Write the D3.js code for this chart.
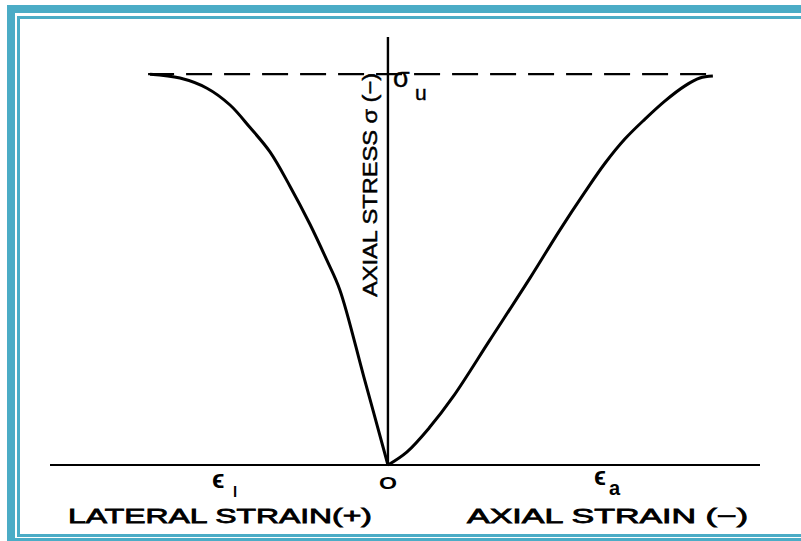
<!DOCTYPE html>
<html>
<head>
<meta charset="utf-8">
<script src="https://cdn.jsdelivr.net/npm/d3@7/dist/d3.min.js"></script>
<style>
  html, body { margin: 0; padding: 0; background: #fff; }
  svg { display: block; }
  text { font-family: "Liberation Sans", Arial, sans-serif; fill: #000; }
</style>
</head>
<body>
<svg id="chart" width="801" height="541"></svg>
<script>
// Stress normalised by the peak (ultimate) stress σu; strains normalised by the axial strain at peak.
const lateralStrain = [0, 0.074, 0.148, 0.188, 0.240, 0.302, 0.363, 0.425, 0.486, 0.557, 0.640, 0.732];
const lateralStress = [0, 0.225, 0.448, 0.524, 0.616, 0.714, 0.801, 0.864, 0.921, 0.964, 0.990, 1.0];
const axialStrain   = [0, 0.058, 0.129, 0.200, 0.314, 0.437, 0.529, 0.606, 0.668, 0.729, 0.791, 0.852, 0.914, 0.960, 1.0];
const axialStress   = [0, 0.033, 0.097, 0.174, 0.320, 0.478, 0.601, 0.698, 0.772, 0.834, 0.885, 0.931, 0.970, 0.990, 0.995];
const peakStress = 1.0;

// Axis labels and annotations
const originLabel = "O";
const stressAxisLabel = "AXIAL STRESS σ (−)";
const lateralAxisLabel = "LATERAL STRAIN(+)";
const axialAxisLabel = "AXIAL STRAIN (−)";

const svg = d3.select("#chart");
const teal = "#4bacc6";

// Double frame around the figure
svg.append("rect").attr("x", 7).attr("y", 5).attr("width", 830).attr("height", 560).attr("fill", teal);
svg.append("rect").attr("x", 15).attr("y", 13).attr("width", 830).attr("height", 525).attr("fill", "#fff");
svg.append("rect").attr("x", 17).attr("y", 16).attr("width", 830).attr("height", 521).attr("fill", teal);
svg.append("rect").attr("x", 20).attr("y", 19).attr("width", 830).attr("height", 515).attr("fill", "#fff");

// Lateral strain is plotted to the left of the origin (negative side of the scale)
const x = d3.scaleLinear().domain([-1.04, 1.145]).range([50, 760]);
const y = d3.scaleLinear().domain([0, 1.095]).range([465, 37]);

const g = svg.append("g");

// Axes
g.append("line")
  .attr("x1", x(-1.04)).attr("x2", x(1.145))
  .attr("y1", y(0)).attr("y2", y(0))
  .attr("stroke", "#000").attr("stroke-width", 2.2);
g.append("line")
  .attr("x1", x(0)).attr("x2", x(0))
  .attr("y1", y(0)).attr("y2", y(1.095))
  .attr("stroke", "#000").attr("stroke-width", 2.4);

// Peak stress level
g.append("line")
  .attr("x1", x(-lateralStrain[lateralStrain.length - 1]) - 2)
  .attr("x2", x(axialStrain[axialStrain.length - 1]))
  .attr("y1", y(peakStress)).attr("y2", y(peakStress))
  .attr("stroke", "#000").attr("stroke-width", 2.2)
  .attr("stroke-dasharray", "26,12");

const line = d3.line()
  .x(d => x(d[0])).y(d => y(d[1]))
  .curve(d3.curveCatmullRom.alpha(0.5));

const lateralPts = lateralStrain.map((s, i) => [-s, lateralStress[i]]);
const axialPts = axialStrain.map((s, i) => [s, axialStress[i]]);

g.append("path").datum(lateralPts).attr("d", line)
  .attr("fill", "none").attr("stroke", "#000").attr("stroke-width", 3)
  .attr("stroke-linejoin", "round");
g.append("path").datum(axialPts).attr("d", line)
  .attr("fill", "none").attr("stroke", "#000").attr("stroke-width", 3)
  .attr("stroke-linejoin", "round");

// Stress axis title, running upward along the vertical axis
g.append("text")
  .attr("transform", `translate(${x(0) - 11},${y(0.43)}) rotate(-90)`)
  .attr("font-family", "'Liberation Sans Narrow', 'Liberation Sans', sans-serif")
  .attr("font-size", 21)
  .attr("stroke", "#000").attr("stroke-width", 0.5)
  .attr("textLength", 224).attr("lengthAdjust", "spacingAndGlyphs")
  .text(stressAxisLabel);

// σu next to the peak level
const su = g.append("text").attr("x", x(0) + 5).attr("y", y(peakStress) + 13)
  .attr("font-family", "'DejaVu Sans', sans-serif").attr("font-size", 27)
  .attr("stroke", "#000").attr("stroke-width", 0.4);
su.append("tspan").text("σ");
su.append("tspan").attr("x", x(0) + 27).attr("dy", 13).attr("font-size", 21).text("u");

// Origin
g.append("text").attr("x", x(0)).attr("y", 489).attr("text-anchor", "middle")
  .attr("font-size", 17).attr("font-weight", "bold")
  .attr("textLength", 18).attr("lengthAdjust", "spacingAndGlyphs")
  .text(originLabel);

// Strain symbols
const el = g.append("text").attr("x", 212).attr("y", 488)
  .attr("font-family", "'DejaVu Sans', sans-serif").attr("font-size", 26).attr("font-weight", "bold");
el.append("tspan").text("ϵ");
el.append("tspan").attr("x", 233).attr("dy", 9).attr("font-size", 15).text("l");

const ea = g.append("text").attr("x", 594).attr("y", 485)
  .attr("font-family", "'DejaVu Sans', sans-serif").attr("font-size", 25).attr("font-weight", "bold");
ea.append("tspan").text("ϵ");
ea.append("tspan").attr("x", 609).attr("dy", 10).attr("font-size", 20).text("a");

// Strain axis titles
g.append("text").attr("x", 68).attr("y", 523)
  .attr("font-size", 21)
  .attr("stroke", "#000").attr("stroke-width", 0.8)
  .attr("textLength", 304).attr("lengthAdjust", "spacingAndGlyphs")
  .text(lateralAxisLabel);
g.append("text").attr("x", 467).attr("y", 523)
  .attr("font-size", 21)
  .attr("stroke", "#000").attr("stroke-width", 0.8)
  .attr("textLength", 281).attr("lengthAdjust", "spacingAndGlyphs")
  .text(axialAxisLabel);
</script>
</body>
</html>
